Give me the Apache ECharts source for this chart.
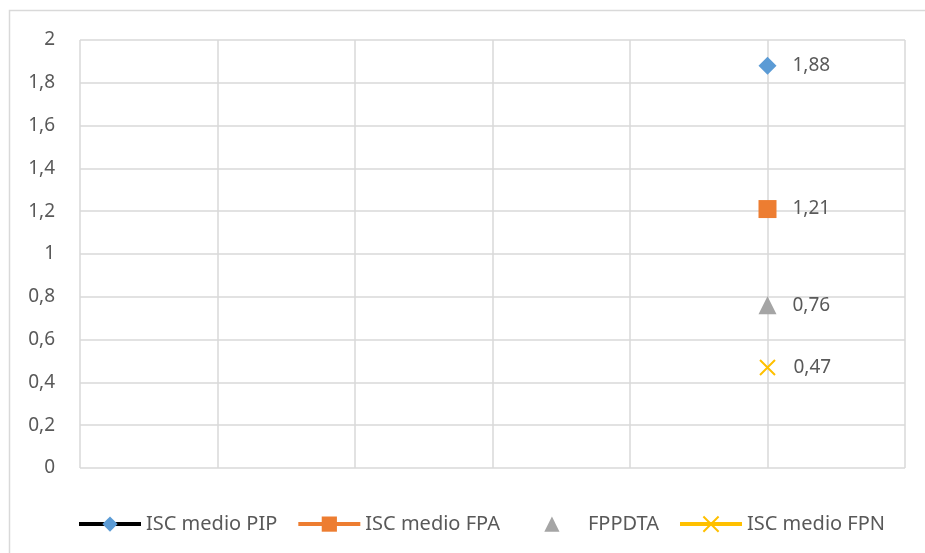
<!DOCTYPE html>
<html>
<head>
<meta charset="utf-8">
<script src="https://cdn.jsdelivr.net/npm/echarts@6/dist/echarts.min.js"></script>
<style>
  html, body { margin: 0; padding: 0; background: #fff; }
  #chart { width: 925px; height: 553px; }
</style>
</head>
<body>
<div id="chart"></div>
<script>
// dati
const seriesNames = ['ISC medio PIP', 'ISC medio FPA', 'FPPDTA', 'ISC medio FPN']
const xPos = [5, 5, 5, 5]
const values = [1.88, 1.21, 0.76, 0.47]

const markerColors = ['#5b9bd5', '#ed7d31', '#a5a5a5', '#ffc000']
const lineColors = ['#000000', '#ed7d31', 'transparent', '#ffc000']
const symbols = ['diamond', 'rect', 'triangle', 'path://M0,0 L10,10 M10,0 L0,10']

const font = 'Noto Sans'
const grey = '#595959'
const gridColor = '#d9d9d9'

const fmt = v => String(+v.toFixed(2)).replace('.', ',')

const chart = echarts.init(document.getElementById('chart'))
chart.setOption({
  animation: false,
  graphic: [{
    type: 'rect',
    shape: { x: 9.5, y: 10.5, width: 1000, height: 1000 },
    style: { fill: 'none', stroke: gridColor, lineWidth: 1.5 }
  }],
  grid: { left: 80, right: 20, top: 40, bottom: 85 },
  legend: {
    left: 72,
    top: 509,
    itemWidth: 62,
    itemHeight: 19,
    itemGap: 19,
    textStyle: { color: grey, fontSize: 20, fontFamily: font },
    data: seriesNames.map((name, i) => ({
      name,
      lineStyle: { width: 4, color: lineColors[i] }
    }))
  },
  xAxis: {
    type: 'value',
    min: 0,
    max: 6,
    interval: 1,
    axisLine: { show: false },
    axisTick: { show: false },
    axisLabel: { show: false },
    splitLine: { show: true, lineStyle: { color: gridColor, width: 1.5 } }
  },
  yAxis: {
    type: 'value',
    min: 0,
    max: 2,
    interval: 0.2,
    axisLine: { show: false },
    axisTick: { show: false },
    axisLabel: {
      color: grey, fontSize: 19, fontFamily: font, margin: 25,
      formatter: v => fmt(v)
    },
    splitLine: { show: true, lineStyle: { color: gridColor, width: 1.5 } }
  },
  series: seriesNames.map((name, i) => ({
    name,
    type: 'line',
    data: [[xPos[i], values[i]]],
    symbol: symbols[i],
    symbolSize: i === 3 ? 15 : 18,
    lineStyle: { color: lineColors[i], width: 4 },
    itemStyle: i === 3
      ? { color: 'none', borderColor: markerColors[i], borderWidth: 2 }
      : { color: markerColors[i] },
    label: {
      show: true,
      position: 'right',
      distance: 16,
      color: grey,
      fontSize: 19,
      fontFamily: font,
      formatter: p => fmt(p.value[1])
    }
  }))
})
</script>
</body>
</html>
